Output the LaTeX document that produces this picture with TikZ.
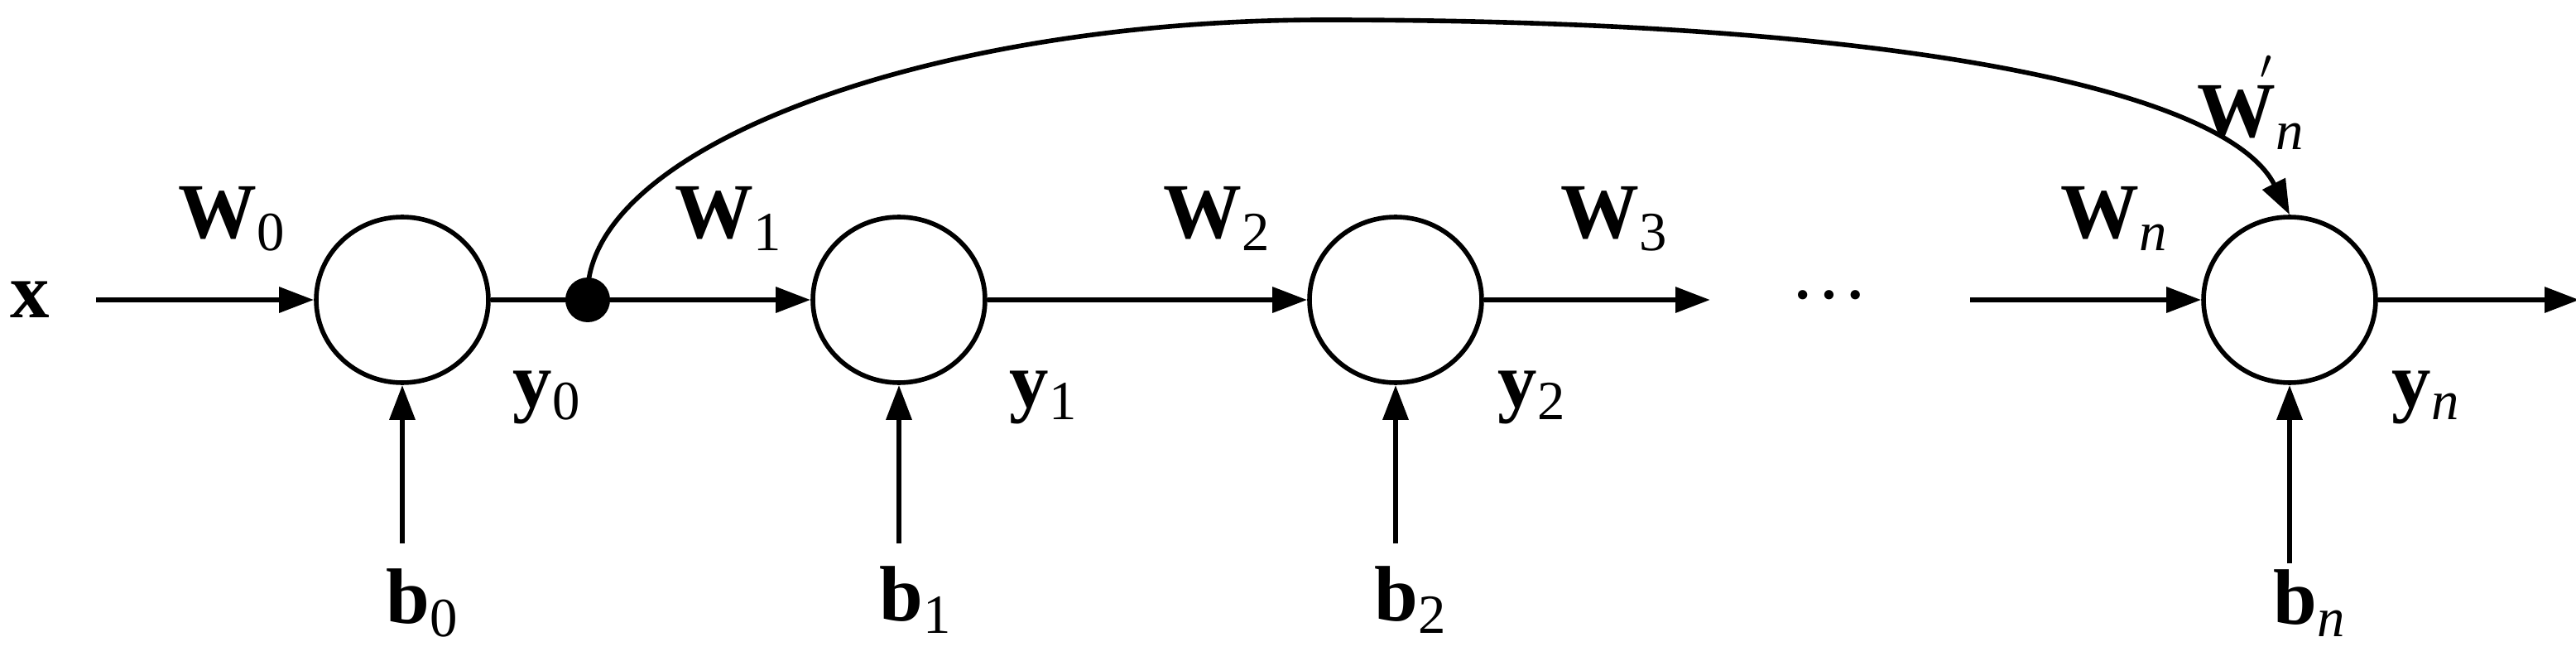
\documentclass[tikz,border=0pt]{standalone}
\usepackage{fontspec}
\setmainfont{Liberation Serif}
\usetikzlibrary{arrows.meta}
\newcommand{\lb}[2]{{\bfseries #1}\raisebox{-0.35ex}{\fontsize{19}{22}\selectfont #2}}
\begin{document}
\begin{tikzpicture}[x=0.02cm,y=-0.02cm,
  neuron/.style={draw,line width=1.6pt,ellipse,minimum width=2.08cm,minimum height=2.0cm,inner sep=0pt},
  conn/.style={line width=1.8pt,-{Triangle[length=0.42cm,width=0.3cm]}},
  lab/.style={font=\fontsize{27}{30}\selectfont,inner sep=0pt},
  every node/.append style={}]
\useasboundingbox (0,0) rectangle (1556,402);
\usetikzlibrary{shapes.geometric}
\node[neuron] (c0) at (243,181) {};
\node[neuron] (c1) at (543,181) {};
\node[neuron] (c2) at (843,181) {};
\node[neuron] (cn) at (1383,181) {};
\coordinate (xin) at (58,181);
\coordinate (dot) at (355,181);
\coordinate (w3e) at (1033,181);
\coordinate (wns) at (1190,181);
\coordinate (out) at (1558,181);
\coordinate (b0s) at (243,328);
\coordinate (b1s) at (543,328);
\coordinate (b2s) at (843,328);
\coordinate (bns) at (1383,340);
\coordinate (top) at (800,12);
\node[lab] (xl) at (18,181) {\bfseries x};
\node[lab] (w0) at (140,132) {\lb{W}{0}};
\node[lab] (w1) at (440,132) {\lb{W}{1}};
\node[lab] (w2) at (735,132) {\lb{W}{2}};
\node[lab] (w3) at (975,132) {\lb{W}{3}};
\node[lab] (wn) at (1277,132) {\lb{W}{\itshape n}};
\node[lab] (wpn) at (1350,62) {{\bfseries W}\raisebox{-0.35ex}{\fontsize{19}{22}\selectfont\itshape n}\kern-0.55em\raisebox{1.1ex}{\fontsize{19}{22}\selectfont$'$}};
\node[lab] (y0) at (330,240) {\lb{y}{0}};
\node[lab] (y1) at (630,240) {\lb{y}{1}};
\node[lab] (y2) at (925,240) {\lb{y}{2}};
\node[lab] (yn) at (1465,240) {\lb{y}{\itshape n}};
\node[lab] (b0) at (255,364) {\lb{b}{0}};
\node[lab] (b1) at (553,362) {\lb{b}{1}};
\node[lab] (b2) at (852,362) {\lb{b}{2}};
\node[lab] (bn) at (1395,364) {\lb{b}{\itshape n}};
\node[lab] (dots) at (1105,178) {\fontsize{27}{30}\selectfont\dots};
\draw[conn] (xin) -- (c0.west);
\draw[line width=1.8pt] (c0.east) -- (dot);
\draw[conn] (dot) -- (c1.west);
\draw[conn] (c1.east) -- (c2.west);
\draw[conn] (c2.east) -- (w3e);
\draw[conn] (wns) -- (cn.west);
\draw[conn] (cn.east) -- (out);
\draw[conn] (b0s) -- (c0.south);
\draw[conn] (b1s) -- (c1.south);
\draw[conn] (b2s) -- (c2.south);
\draw[conn] (bns) -- (cn.south);
\draw[line width=1.6pt] (dot) .. controls (350,90) and (560,12) .. (top);
\draw[conn,line width=1.6pt] (top) .. controls (1150,12) and (1345,55) .. (cn.north);
\fill (dot) circle (0.27cm);
\end{tikzpicture}
\end{document}
